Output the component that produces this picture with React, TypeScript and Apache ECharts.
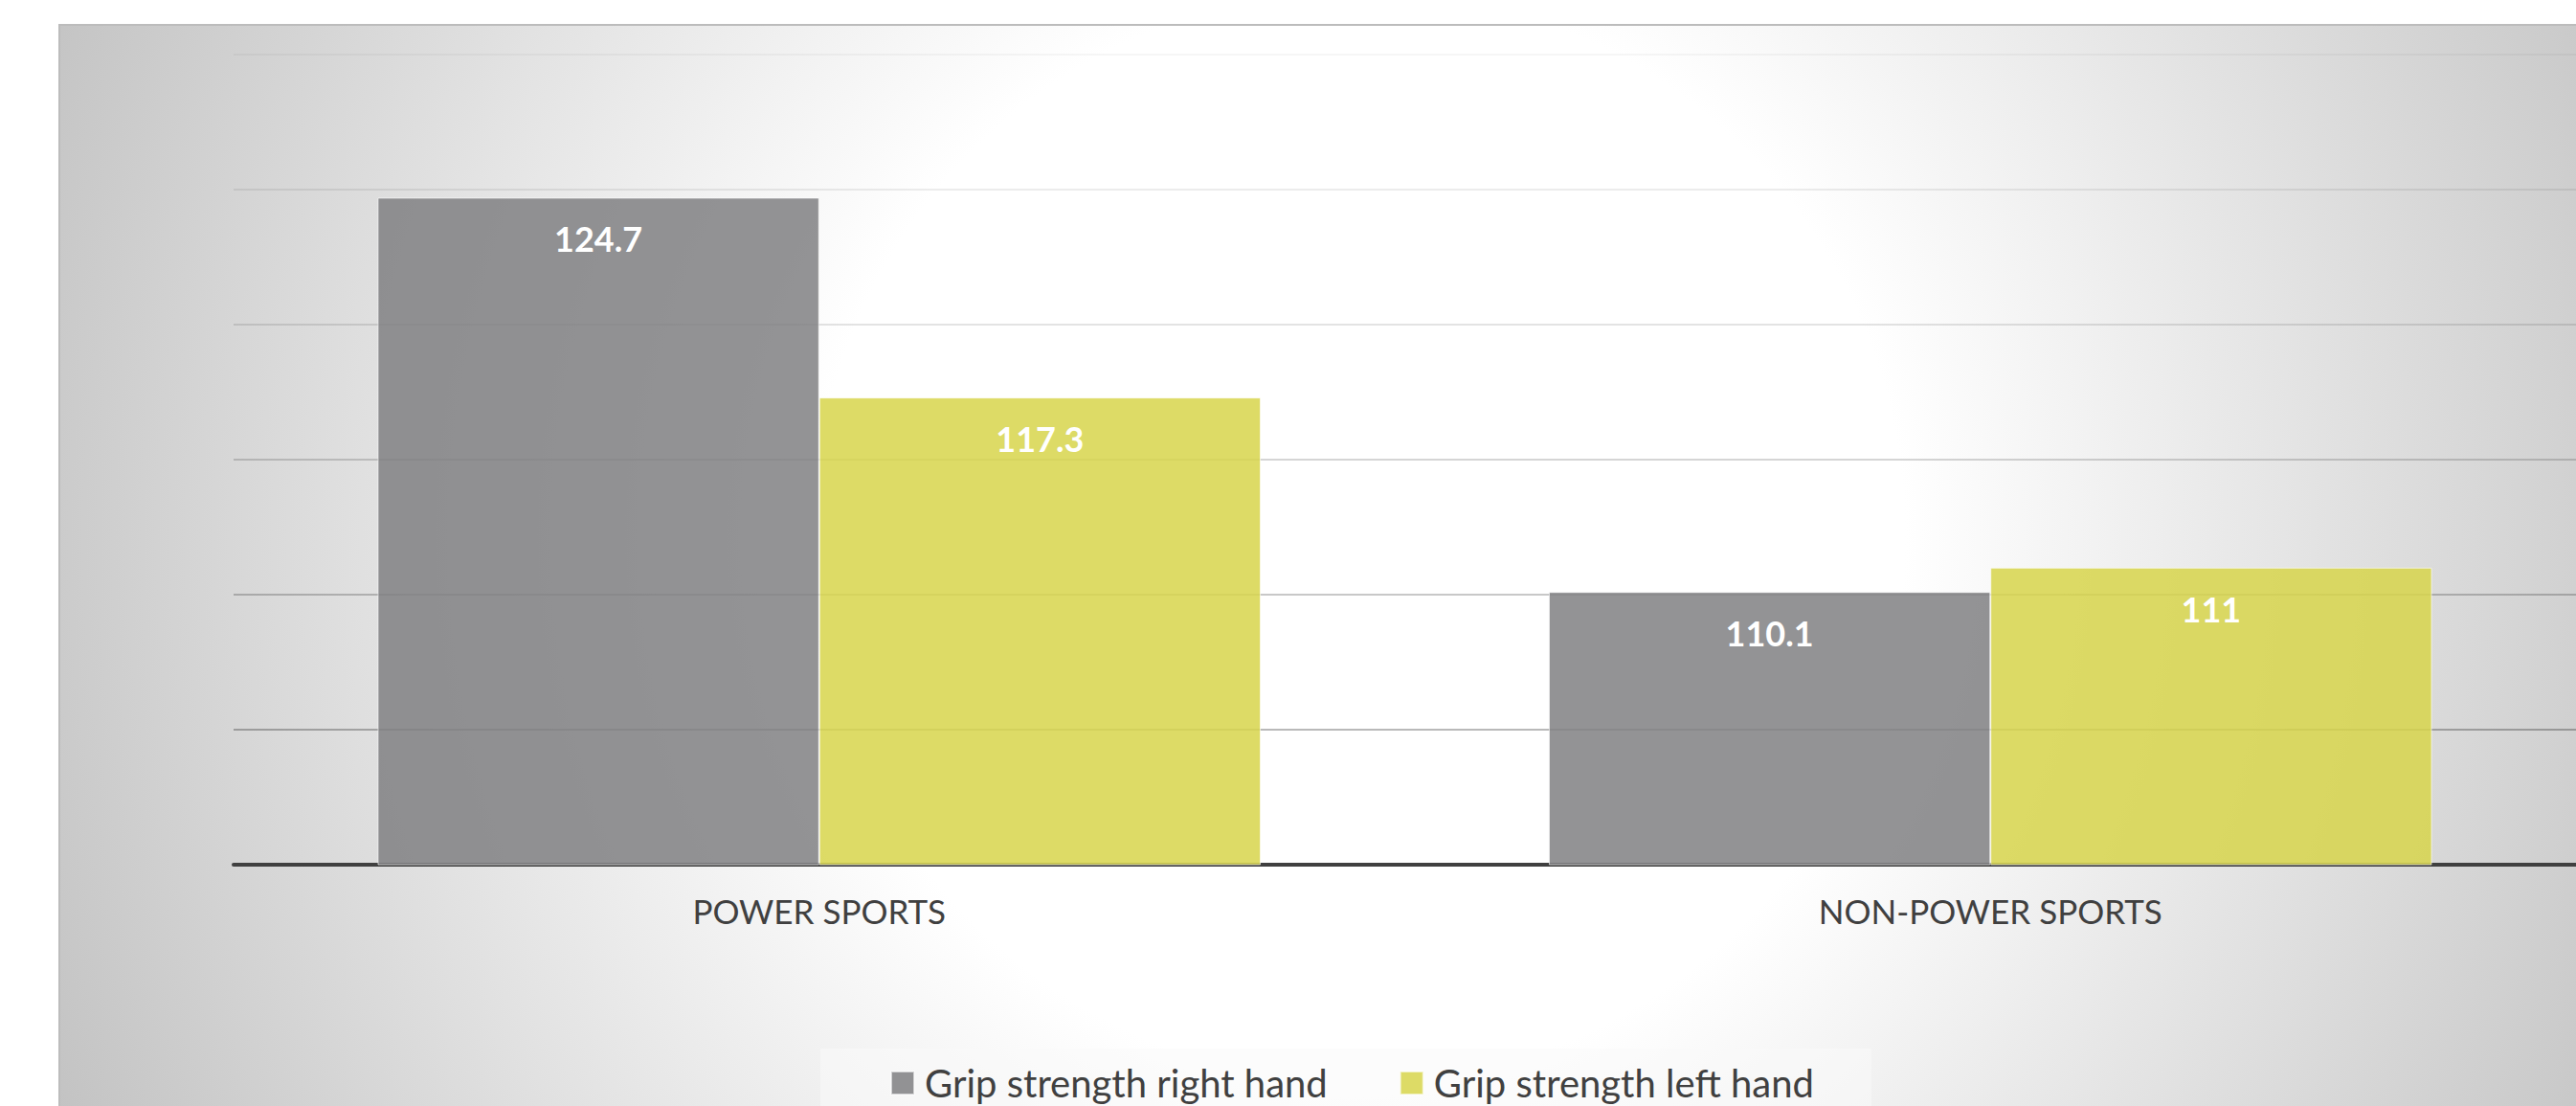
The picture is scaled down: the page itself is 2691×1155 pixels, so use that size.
import React, { useEffect, useRef } from "react";
import * as echarts from "echarts";

const categories = ["POWER SPORTS", "NON-POWER SPORTS"];
const seriesNames = ["Grip strength right hand", "Grip strength left hand"];
const rightHand = [124.7, 110.1];
const leftHand = [117.3, 111];
const yMin = 100;
const yMax = 130;
const yInterval = 5;

export default function App() {
  const ref = useRef<HTMLDivElement>(null);

  useEffect(() => {
    if (!ref.current) return;
    const chart = echarts.init(ref.current, null, { renderer: "svg" });
    const font = "Lato";
    const labelStyle = {
      show: true,
      position: "insideTop",
      distance: 25,
      color: "#ffffff",
      fontFamily: font,
      fontWeight: "bold",
      fontSize: 36,
    };
    chart.setOption({
      animation: false,
      backgroundColor: "#ffffff",
      graphic: {
        elements: [
          {
            type: "rect",
            z: -10,
            silent: true,
            shape: { x: 62, y: 26, width: 2700, height: 1200 },
            style: {
              fill: new echarts.graphic.RadialGradient(
                1420,
                560,
                1500,
                [
                  { offset: 0, color: "#ffffff" },
                  { offset: 0.38, color: "#ffffff" },
                  { offset: 1, color: "#c2c2c2" },
                ],
                true
              ),
              stroke: "#bcbcbc",
              lineWidth: 2,
            },
          },
        ],
      },
      grid: { left: 244, top: 57, width: 2455, height: 846, containLabel: false },
      legend: {
        data: seriesNames,
        left: 857,
        top: 1095,
        padding: [16, 60, 40, 73],
        backgroundColor: "rgba(250,250,250,0.55)",
        itemWidth: 24,
        itemHeight: 24,
        itemGap: 75,
        icon: "rect",
        textStyle: { fontFamily: font, fontSize: 40, color: "#404040", padding: [0, 0, 0, 6] },
      },
      xAxis: {
        type: "category",
        data: categories,
        axisLine: { show: true, lineStyle: { color: "#404040", width: 4 } },
        axisTick: { show: false },
        axisLabel: { fontFamily: font, fontSize: 35, color: "#404040", margin: 30 },
        splitLine: { show: false },
      },
      yAxis: {
        type: "value",
        min: yMin,
        max: yMax,
        interval: yInterval,
        axisLine: { show: false },
        axisTick: { show: false },
        axisLabel: { show: false },
        splitLine: {
          show: true,
          lineStyle: {
            width: 1.5,
            color: [
              "rgba(0,0,0,0.4)",
              "rgba(0,0,0,0.37)",
              "rgba(0,0,0,0.29)",
              "rgba(0,0,0,0.22)",
              "rgba(0,0,0,0.15)",
              "rgba(0,0,0,0.1)",
              "rgba(0,0,0,0.05)",
            ],
          },
        },
      },
      series: [
        {
          name: seriesNames[0],
          type: "bar",
          data: rightHand,
          barGap: "0%",
          barCategoryGap: "24.6%",
          itemStyle: {
            color: "rgba(128,128,130,0.85)",
            borderColor: "rgba(255,255,255,0.6)",
            borderWidth: 1,
          },
          label: labelStyle,
        },
        {
          name: seriesNames[1],
          type: "bar",
          data: leftHand,
          barGap: "0%",
          barCategoryGap: "24.6%",
          itemStyle: {
            color: "rgba(215,213,75,0.85)",
            borderColor: "rgba(255,255,255,0.6)",
            borderWidth: 1,
          },
          label: labelStyle,
        },
      ],
    });
    return () => chart.dispose();
  }, []);

  return (
    <div
      ref={ref}
      style={{ position: "absolute", left: 0, top: 0, width: 2691, height: 1155 }}
    />
  );
}
